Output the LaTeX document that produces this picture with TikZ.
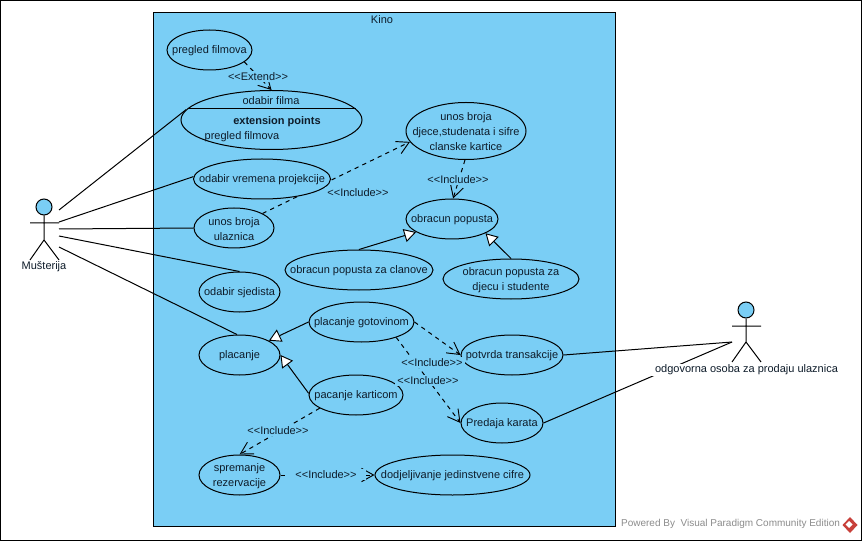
\documentclass[tikz,border=0pt]{standalone}
\usepackage{fontspec}
\setmainfont{Liberation Sans}
\usetikzlibrary{shapes.geometric,arrows.meta}
\definecolor{kino}{HTML}{7ACEF5}
\definecolor{inkc}{HTML}{0E1C2A}
\definecolor{wm}{HTML}{8C8C8C}
\definecolor{logored}{HTML}{C8403A}
\pgfdeclarelayer{backl}
\pgfdeclarelayer{connl}
\pgfsetlayers{backl,connl,main}
\tikzset{
  basefont/.style={font=\fontsize{8.25pt}{11.25pt}\selectfont, text=inkc},
  plain/.style={inner sep=0pt, basefont},
  uc/.style n args={3}{ellipse, draw=black, fill=kino, line width=0.75pt, inner sep=0pt,
     minimum width=#1*0.75pt, minimum height=#2*0.75pt,
     label={[plain,align=center,yshift=-0.8pt]center:{#3}}},
  lbl/.style={fill=kino, inner ysep=1pt, inner xsep=1.5pt, basefont},
  assoc/.style={draw=black, line width=0.75pt},
  dep/.style={draw=black, line width=0.75pt, dash pattern=on 3.2pt off 3.2pt, -{Straight Barb[length=9pt,width=10pt,line width=0.7pt]}},
  gen/.style={draw=black, line width=0.75pt, -{Triangle[open,fill=white,length=9pt,width=10pt,line width=0.7pt]}},
  stick/.style={draw=black, line width=0.75pt},
  head/.style={circle, draw=black, fill=kino, line width=0.75pt, inner sep=0pt, minimum size=12pt},
}
\begin{document}
\begin{tikzpicture}[x=0.75pt,y=-0.75pt]
\useasboundingbox (0,0) rectangle (862,541);
\begin{pgfonlayer}{backl}
  \draw[black,line width=0.9pt,fill=white] (0.5,0.5) rectangle (861.5,540.5);
  \draw[black,line width=0.75pt,fill=kino] (153.5,13) rectangle (615,526);
\end{pgfonlayer}
\node[plain] (kinolbl) at (382,20) {Kino};
% use cases
\node[uc={85}{40}{pregled filmova}] (pregled) at (209.5,50) {};
\node[uc={181}{59}{}] (odabir) at (271.5,120) {};
\coordinate (chordl) at (187.5,109);
\coordinate (chordr) at (355.5,109);
\draw[black,line width=0.75pt] (chordl) -- (chordr);
\node[plain] (odabirt) at (271,100.5) {odabir filma};
\node[plain,font=\fontsize{8.25pt}{11.25pt}\selectfont\bfseries] (extp) at (277,121.5) {extension points};
\node[plain] (extpf) at (242,136.5) {pregled filmova};
\node[uc={137}{40}{odabir vremena projekcije}] (vrijeme) at (262,179) {};
\node[uc={80}{40}{unos broja\\ulaznica}] (ulaznica) at (234,228) {};
\node[uc={120}{57}{unos broja\\djece,studenata i sifre\\clanske kartice}] (djece) at (466,131) {};
\node[uc={92}{40}{obracun popusta}] (popust) at (452,219) {};
\node[uc={148}{40}{obracun popusta za clanove}] (clanove) at (359,270) {};
\node[uc={136}{40}{obracun popusta za\\djecu i studente}] (djecu) at (511,279) {};
\node[uc={81}{40}{odabir sjedista}] (sjediste) at (239.5,292) {};
\node[uc={81}{40}{placanje}] (placanje) at (239.5,355) {};
\node[uc={105}{40}{placanje gotovinom}] (gotovina) at (361.5,322) {};
\node[uc={94}{40}{pacanje karticom}] (kartica) at (356,395) {};
\node[uc={81}{40}{spremanje\\rezervacije}] (sprema) at (239.5,475) {};
\node[uc={155}{40}{dodjeljivanje jedinstvene cifre}] (cifra) at (452.5,475) {};
\node[uc={102}{40}{potvrda transakcije}] (potvrda) at (512,355) {};
\node[uc={82}{40}{Predaja karata}] (predaja) at (502,423) {};
% actors
\node[head] (mhead) at (44,207) {};
\coordinate (mhip) at (44,240);
\coordinate (mla) at (30,223);
\coordinate (mra) at (59,223);
\coordinate (mll) at (30,260);
\coordinate (mrl) at (59,260);
\draw[stick] (mhead) -- (mhip) (mla) -- (mra) (mll) -- (mhip) -- (mrl);
\node[plain] (mlbl) at (44,267) {Mu\v{s}terija};
\node[head] (ohead) at (746,310) {};
\coordinate (ohip) at (746,342);
\coordinate (ola) at (732,326);
\coordinate (ora) at (761,326);
\coordinate (oll) at (732,362);
\coordinate (orl) at (761,362);
\draw[stick] (ohead) -- (ohip) (ola) -- (ora) (oll) -- (ohip) -- (orl);
\node[plain,fill=white,inner xsep=3pt,inner ysep=1pt] (olbl) at (746.5,370) {odgovorna osoba za prodaju ulaznica};
\coordinate (m1) at (59,210);
\coordinate (m2) at (59,222);
\coordinate (m3) at (59,229);
\coordinate (m4) at (59,236);
\coordinate (m5) at (59,247);
\coordinate (o1) at (732,342);
% labels
\node[lbl] (lext) at (258,76.5) {<{}<Extend>{}>};
\node[lbl] (linc1) at (358,192.5) {<{}<Include>{}>};
\node[lbl] (linc2) at (458,179.5) {<{}<Include>{}>};
\node[lbl] (linc3) at (432,362.5) {<{}<Include>{}>};
\node[lbl] (linc4) at (428,380.5) {<{}<Include>{}>};
\node[lbl] (linc5) at (278,430.5) {<{}<Include>{}>};
\node[lbl,inner xsep=7pt] (linc6) at (326,474.5) {<{}<Include>{}>};
% watermark
\node[plain,text=wm,font=\fontsize{7.5pt}{10pt}\selectfont] (wmark) at (730.5,524) {Powered By\ \ Visual Paradigm Community Edition};
\fill[logored] (850,517) -- (857.5,525) -- (850,533) -- (842.5,525) -- cycle;
\fill[white] (849,521) -- (852.5,524.5) -- (849,528) -- (845.5,524.5) -- cycle;
% connectors
\begin{pgfonlayer}{connl}
  \draw[assoc] (m1) -- (odabir.173);
  \draw[assoc] (m2) -- (vrijeme.178);
  \draw[assoc] (m3) -- (ulaznica.180);
  \draw[assoc] (m4) -- (sjediste.90);
  \draw[assoc] (m5) -- (placanje.97);
  \draw[assoc] (potvrda.0) -- (o1);
  \draw[assoc] (predaja.0) -- (o1);
  \draw[dep] (pregled.-19) -- (odabir.90);
  \draw[dep] (ulaznica.27) -- (djece.191);
  \draw[dep] (djece.268) -- (popust.87);
  \draw[dep] (gotovina.0) -- (potvrda.180);
  \draw[dep] (gotovina.336) -- (predaja.180);
  \draw[dep] (kartica.200) -- (sprema.90);
  \draw[dep] (sprema.0) -- (cifra.180);
  \draw[gen] (clanove.90) -- (popust.200);
  \draw[gen] (djecu.90) -- (popust.337);
  \draw[gen] (gotovina.180) -- (placanje.26);
  \draw[gen] (kartica.178) -- (placanje.0);
\end{pgfonlayer}
\end{tikzpicture}
\end{document}
